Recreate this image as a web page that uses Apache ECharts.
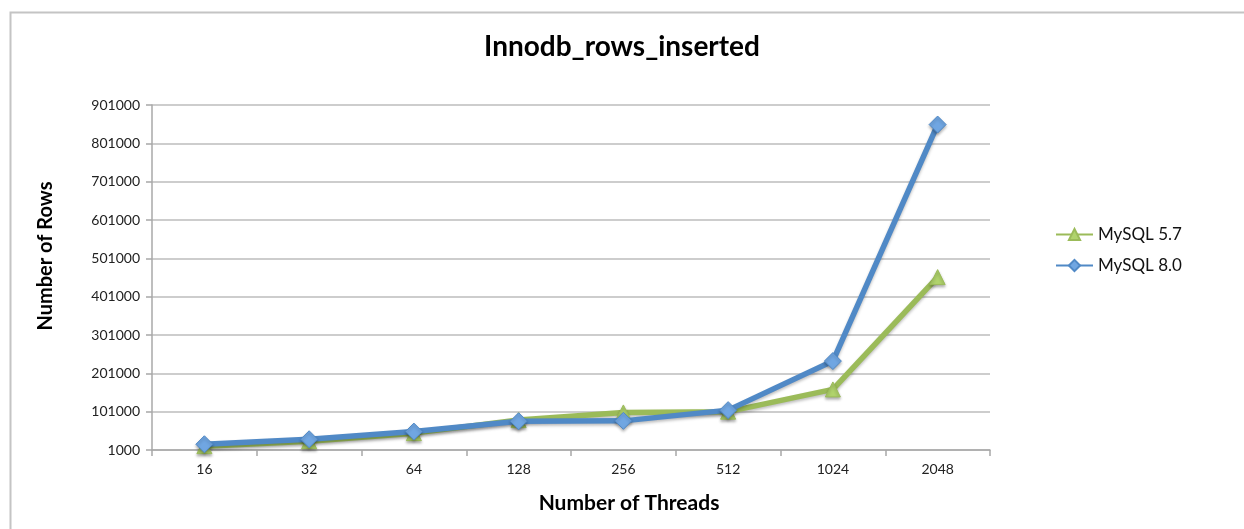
<!DOCTYPE html>
<html>
<head>
<meta charset="utf-8">
<script src="https://cdn.jsdelivr.net/npm/echarts@6/dist/echarts.min.js"></script>
<style>html,body{margin:0;padding:0;background:#fff}#c{width:1244px;height:529px}</style>
</head>
<body>
<div id="c"></div>
<script>
const threads = ['16', '32', '64', '128', '256', '512', '1024', '2048'];
const mysql57 = [11000, 24000, 45000, 79000, 99000, 101000, 159000, 452000];
const mysql80 = [16000, 29000, 49000, 76000, 77000, 105000, 233000, 850000];
const yTicks = [1000, 101000, 201000, 301000, 401000, 501000, 601000, 701000, 801000, 901000];

const FONT = 'Lato, "Open Sans", sans-serif';
const chart = echarts.init(document.getElementById('c'), null, {renderer: 'canvas'});
chart.setOption({
  animation: false,
  backgroundColor: '#fff',
  graphic: [
    {
      type: 'rect', left: 8, top: 10, z: -10,
      shape: {width: 1300, height: 600},
      style: {fill: 'none', stroke: '#c4c4c4', lineWidth: 2}
    },
    {
      type: 'text', x: 629, y: 503,
      style: {text: 'Number of Threads', font: 'bold 21px ' + FONT, fill: '#000', textAlign: 'center', textVerticalAlign: 'middle'}
    },
    {
      type: 'text', x: 46, y: 256, rotation: Math.PI / 2,
      style: {text: 'Number of Rows', font: 'bold 20px ' + FONT, fill: '#000', textAlign: 'center', textVerticalAlign: 'middle'}
    }
  ],
  title: {
    text: 'Innodb_rows_inserted', left: 'center', top: 28,
    textStyle: {fontFamily: FONT, fontSize: 28, fontWeight: 'bold', color: '#000'}
  },
  legend: {
    orient: 'vertical', left: 1050, top: 221, itemGap: 14,
    itemWidth: 37, itemHeight: 14,
    textStyle: {fontFamily: FONT, fontSize: 17, color: '#111'},
    data: ['MySQL 5.7', 'MySQL 8.0']
  },
  grid: {left: 152, right: 254, top: 105, bottom: 79, containLabel: false},
  xAxis: {
    type: 'category', data: threads, boundaryGap: true,
    axisLine: {lineStyle: {color: '#a8a8a8', width: 1.5}},
    axisTick: {show: true, length: 6, lineStyle: {color: '#a8a8a8', width: 1.5}},
    axisLabel: {fontFamily: FONT, fontSize: 14, color: '#222', margin: 12},
    splitLine: {show: false}
  },
  yAxis: {
    type: 'value', min: 1000, max: 901000,
    axisLine: {show: true, lineStyle: {color: '#a8a8a8', width: 1.5}},
    axisTick: {show: true, length: 6, customValues: yTicks, lineStyle: {color: '#a8a8a8', width: 1.5}},
    axisLabel: {fontFamily: FONT, fontSize: 14, color: '#222', margin: 12, customValues: yTicks,
      formatter: v => String(v)},
    splitLine: {show: true, lineStyle: {color: '#bdbdbd', width: 1.5}}
  },
  series: [
    {
      name: 'MySQL 5.7', type: 'line', data: mysql57, z: 2,
      symbol: 'triangle', symbolSize: 15, showAllSymbol: true,
      lineStyle: {color: '#9bbb59', width: 5.5, shadowColor: 'rgba(0,0,0,0.25)', shadowBlur: 3, shadowOffsetY: 2},
      itemStyle: {color: '#b0d36c', borderColor: '#9bbb59', borderWidth: 1, shadowColor: 'rgba(0,0,0,0.3)', shadowBlur: 3, shadowOffsetY: 2}
    },
    {
      name: 'MySQL 8.0', type: 'line', data: mysql80, z: 3,
      symbol: 'diamond', symbolSize: 17, showAllSymbol: true,
      lineStyle: {color: '#5089c6', width: 5.5, shadowColor: 'rgba(0,0,0,0.25)', shadowBlur: 3, shadowOffsetY: 2},
      itemStyle: {color: '#70a6e2', borderColor: '#5089c6', borderWidth: 1, shadowColor: 'rgba(0,0,0,0.3)', shadowBlur: 3, shadowOffsetY: 2}
    }
  ]
});
</script>
</body>
</html>
